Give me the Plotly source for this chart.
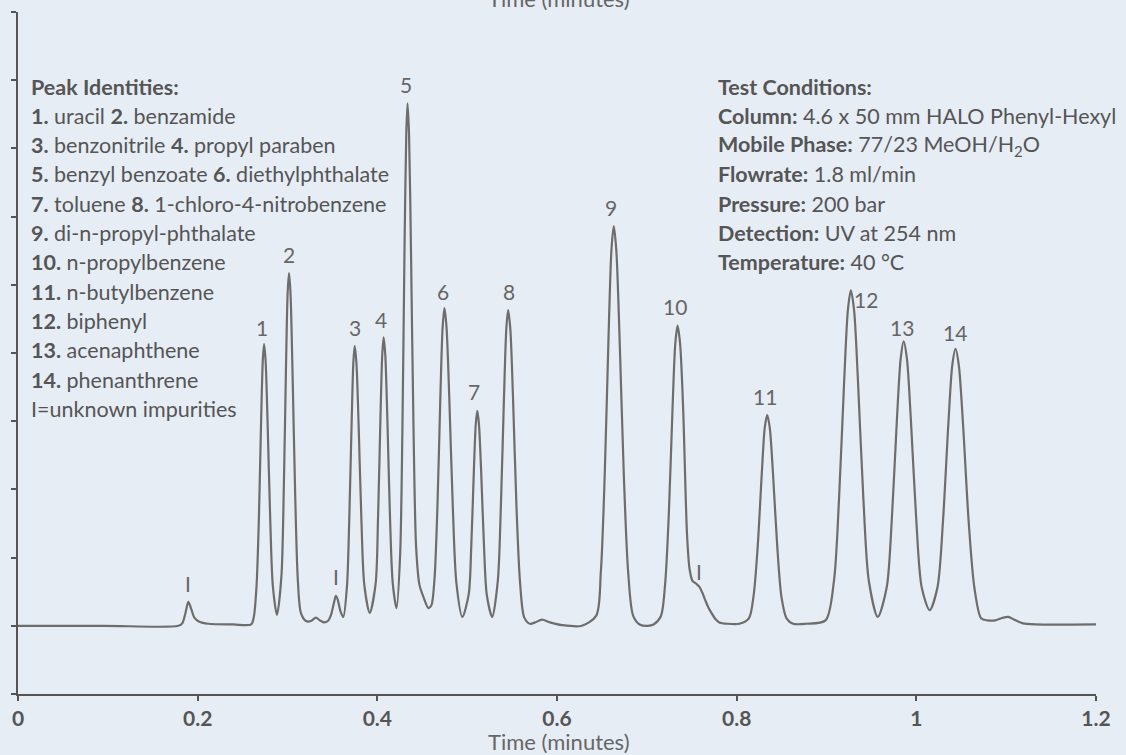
import plotly.graph_objects as go

# ---- traced chromatogram (time in minutes, detector signal in tick units above baseline) ----
time_min = [
    0.0000, 0.0954, 0.1786, 0.1830, 0.1863, 0.1896, 0.1930, 0.1963, 0.2018, 0.2118, 0.2395, 0.2595,
    0.2625, 0.2655, 0.2681, 0.2706, 0.2725, 0.2739, 0.2756, 0.2778, 0.2808, 0.2837, 0.2883,
    0.2932, 0.2958, 0.2983, 0.3002, 0.3017, 0.3033, 0.3055, 0.3085, 0.3114, 0.3149, 0.3205, 0.3261,
    0.3316, 0.3360, 0.3405, 0.3449,
    0.3482, 0.3516, 0.3538, 0.3560, 0.3588, 0.3621,
    0.3662, 0.3687, 0.3714, 0.3733, 0.3748, 0.3767, 0.3791, 0.3823, 0.3855, 0.3915,
    0.3981, 0.4008, 0.4035, 0.4055, 0.4070, 0.4088, 0.4111, 0.4141, 0.4172, 0.4214,
    0.4254, 0.4279, 0.4303, 0.4322, 0.4336, 0.4353, 0.4374, 0.4403, 0.4432, 0.4469, 0.4514, 0.4569,
    0.4602, 0.4636, 0.4669, 0.4702, 0.4727, 0.4747, 0.4770, 0.4800, 0.4840, 0.4880, 0.4946,
    0.5017, 0.5046, 0.5075, 0.5096, 0.5113, 0.5131, 0.5155, 0.5187, 0.5219, 0.5279,
    0.5341, 0.5375, 0.5410, 0.5436, 0.5456, 0.5480, 0.5510, 0.5549, 0.5589, 0.5636, 0.5700,
    0.5756, 0.5833, 0.5922, 0.6055, 0.6277,
    0.6437, 0.6488, 0.6531, 0.6574, 0.6606, 0.6632, 0.6660, 0.6696, 0.6744, 0.6792, 0.6847,
    0.6920, 0.7009, 0.7075,
    0.7156, 0.7204, 0.7245, 0.7286, 0.7317, 0.7342, 0.7370, 0.7404, 0.7447, 0.7475, 0.7508,
    0.7547, 0.7586, 0.7619, 0.7652, 0.7685, 0.7719, 0.7763, 0.7807, 0.7896, 0.8029,
    0.8136, 0.8189, 0.8234, 0.8280, 0.8313, 0.8340, 0.8368, 0.8404, 0.8452, 0.8499, 0.8555,
    0.8628, 0.8772,
    0.8989, 0.9083, 0.9139, 0.9196, 0.9238, 0.9271, 0.9307, 0.9351, 0.9411, 0.9471, 0.9571,
    0.9671, 0.9727, 0.9784, 0.9826, 0.9859, 0.9895, 0.9939, 0.9999, 1.0059, 1.0148,
    1.0236, 1.0296, 1.0356, 1.0400, 1.0436, 1.0473, 1.0520, 1.0583, 1.0647, 1.0721,
    1.0791, 1.0880, 1.0968, 1.1024, 1.1090, 1.1179, 1.1323, 1.2000,
]
signal = [
    0.00, 0.00, 0.00, 0.04, 0.18, 0.35, 0.24, 0.12, 0.06, 0.03, 0.02, 0.02,
    0.13, 0.58, 1.55, 3.00, 3.89, 4.13, 3.89, 3.00, 1.55, 0.58, 0.16,
    0.72, 1.95, 3.78, 4.89, 5.17, 4.89, 3.78, 1.95, 0.70, 0.19, 0.07, 0.07,
    0.12, 0.08, 0.05, 0.07,
    0.15, 0.33, 0.44, 0.38, 0.22, 0.13,
    0.58, 1.54, 2.98, 3.86, 4.10, 3.86, 2.98, 1.54, 0.60, 0.19,
    0.62, 1.59, 3.07, 3.98, 4.23, 3.98, 3.07, 1.59, 0.62, 0.26,
    1.05, 2.87, 5.56, 7.21, 7.66, 7.21, 5.56, 2.87, 1.15, 0.60, 0.42, 0.26,
    0.30, 0.68, 1.75, 3.38, 4.38, 4.66, 4.38, 3.38, 1.75, 0.63, 0.13,
    0.46, 1.18, 2.29, 2.96, 3.15, 2.96, 2.29, 1.18, 0.45, 0.13,
    0.66, 1.74, 3.36, 4.36, 4.63, 4.36, 3.36, 1.74, 0.63, 0.12, 0.03,
    0.05, 0.09, 0.05, 0.01, 0.00,
    0.15, 0.79, 2.20, 4.25, 5.51, 5.86, 5.51, 4.25, 2.20, 0.79, 0.15,
    0.02, 0.00, 0.02,
    0.14, 0.62, 1.65, 3.19, 4.14, 4.40, 4.14, 3.19, 1.35, 0.84, 0.66,
    0.62, 0.57, 0.48, 0.37, 0.27, 0.19, 0.10, 0.05, 0.03, 0.03,
    0.11, 0.45, 1.16, 2.24, 2.91, 3.09, 2.91, 2.24, 1.16, 0.42, 0.11,
    0.03, 0.03,
    0.08, 0.66, 1.85, 3.57, 4.63, 4.92, 4.63, 3.57, 1.85, 0.66, 0.13,
    0.57, 1.56, 3.03, 3.92, 4.17, 3.92, 3.03, 1.56, 0.57, 0.23,
    0.57, 1.52, 2.95, 3.82, 4.06, 3.82, 2.95, 1.52, 0.55, 0.11,
    0.08, 0.08, 0.12, 0.13, 0.09, 0.04, 0.02, 0.02,
]

# ---- peak labels ----
peak_labels = ["I", "1", "2", "I", "3", "4", "5", "6", "7", "8", "9", "10", "I", "11", "12", "13", "14"]
label_time = [0.1896, 0.2717, 0.3017, 0.3538, 0.3748, 0.4036, 0.4314, 0.4735, 0.5079, 0.5467,
              0.6598, 0.7308, 0.7586, 0.8317, 0.9438, 0.9837, 1.0425]
label_signal = [0.62, 4.38, 5.44, 0.72, 4.37, 4.49, 7.93, 4.90, 3.43, 4.90,
                6.13, 4.68, 0.79, 3.36, 4.78, 4.38, 4.30]

# ---- axes ----
x_ticks = [0, 0.2, 0.4, 0.6, 0.8, 1.0, 1.2]
x_tick_text = ["0", "0.2", "0.4", "0.6", "0.8", "1", "1.2"]
y_ticks = [-1, 0, 1, 2, 3, 4, 5, 6, 7, 8, 9]
x_title = "Time (minutes)"

# ---- text blocks ----
peak_identities = [
    "<b>Peak Identities:</b>",
    "<b>1.</b> uracil <b>2.</b> benzamide",
    "<b>3.</b> benzonitrile <b>4.</b> propyl paraben",
    "<b>5.</b> benzyl benzoate <b>6.</b> diethylphthalate",
    "<b>7.</b> toluene <b>8.</b> 1-chloro-4-nitrobenzene",
    "<b>9.</b> di-n-propyl-phthalate",
    "<b>10.</b> n-propylbenzene",
    "<b>11.</b> n-butylbenzene",
    "<b>12.</b> biphenyl",
    "<b>13.</b> acenaphthene",
    "<b>14.</b> phenanthrene",
    "I=unknown impurities",
]
test_conditions = [
    "<b>Test Conditions:</b>",
    "<b>Column:</b> 4.6 x 50 mm HALO Phenyl-Hexyl",
    "<b>Mobile Phase:</b> 77/23 MeOH/H<sub>2</sub>O",
    "<b>Flowrate:</b> 1.8 ml/min",
    "<b>Pressure:</b> 200 bar",
    "<b>Detection:</b> UV at 254 nm",
    "<b>Temperature:</b> 40 °C",
]

W, H = 1126, 755
ML, MR, MT, MB = 14, 30, 12, 61
PH = H - MT - MB
PW = W - ML - MR
FONT = "Lato, 'Open Sans', sans-serif"
BG = "#e6edf5"
TXT = "#555555"
AX = "#555555"

fig = go.Figure()
fig.add_trace(go.Scatter(
    x=time_min, y=signal, mode="lines",
    line=dict(color="#6d6d6d", width=2.2, shape="spline", smoothing=0.8),
    hoverinfo="skip", showlegend=False,
))

annotations = []
for txt, tx, sy in zip(peak_labels, label_time, label_signal):
    annotations.append(dict(x=tx, y=sy, xref="x", yref="y", text=txt, showarrow=False,
                            xanchor="center", yanchor="middle",
                            font=dict(family=FONT, size=21, color="#666666")))


def row_y(k):
    ypix = 86.5 + 29.3 * k
    return (H - MB - ypix) / PH


for k, txt in enumerate(peak_identities):
    annotations.append(dict(x=(25 - ML) / PW, y=row_y(k), xref="paper", yref="paper", text=txt,
                            showarrow=False, xanchor="left", yanchor="middle", align="left",
                            font=dict(family=FONT, size=21.5, color=TXT)))
for k, txt in enumerate(test_conditions):
    annotations.append(dict(x=(715 - ML) / PW, y=row_y(k), xref="paper", yref="paper", text=txt,
                            showarrow=False, xanchor="left", yanchor="middle", align="left",
                            font=dict(family=FONT, size=21.5, color=TXT)))

# axis titles (bottom, and the copy clipped at the top edge as in the original)
annotations.append(dict(x=(557 - ML) / PW, y=(H - MB - 741) / PH, xref="paper", yref="paper",
                        text=x_title, showarrow=False, xanchor="center", yanchor="middle",
                        font=dict(family=FONT, size=22, color="#666666")))
annotations.append(dict(x=(557 - ML) / PW, y=(H - MB + 2) / PH, xref="paper", yref="paper",
                        text=x_title, showarrow=False, xanchor="center", yanchor="middle",
                        font=dict(family=FONT, size=22, color="#666666")))

fig.update_layout(
    width=W, height=H,
    margin=dict(l=ML, r=MR, t=MT, b=MB, pad=0),
    paper_bgcolor=BG, plot_bgcolor=BG,
    showlegend=False,
    annotations=annotations,
    xaxis=dict(range=[0, 1.2], tickvals=x_ticks, ticktext=x_tick_text,
               showgrid=False, zeroline=False, showline=True, linecolor=AX, linewidth=2,
               ticks="outside", ticklen=5, tickwidth=1.5, tickcolor=AX,
               tickfont=dict(family=FONT, size=21, color=TXT, weight="bold")),
    yaxis=dict(range=[-1, 9], tickvals=y_ticks, showticklabels=False,
               showgrid=False, zeroline=False, showline=True, linecolor=AX, linewidth=2,
               ticks="outside", ticklen=5, tickwidth=1.5, tickcolor=AX),
)

fig.write_html("out.html", config={"displayModeBar": False, "responsive": False},
               post_script="document.body.style.margin='0';")
